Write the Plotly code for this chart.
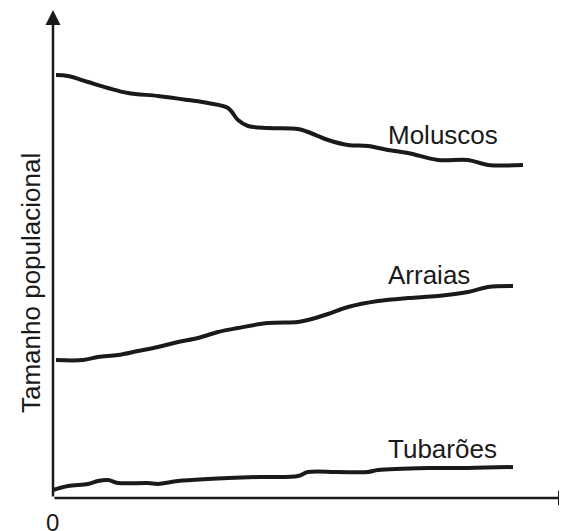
import plotly.graph_objects as go

# values (time, population size, arbitrary units)
mol_t = [3, 15, 35, 55, 75, 105, 135, 155, 175, 185, 195, 215, 245, 255, 275, 295, 315, 335, 355, 385, 415, 435, 470]
mol_n = [423, 422, 416, 410, 405, 402, 398, 395, 390, 378, 372, 370, 369, 366, 358, 353, 352, 348, 345, 338, 338, 333, 333]

arr_t = [3, 30, 45, 65, 85, 105, 125, 145, 165, 185, 215, 245, 255, 275, 295, 325, 355, 385, 415, 435, 460]
arr_n = [138, 138, 141, 143, 147, 151, 156, 160, 166, 170, 175, 176, 178, 184, 191, 197, 200, 202, 206, 211, 212]

tub_t = [0, 15, 35, 45, 55, 65, 95, 105, 125, 155, 205, 245, 255, 285, 315, 325, 375, 415, 460]
tub_n = [8, 12, 14, 17, 18, 15, 15, 14, 17, 19, 21, 22, 26, 26, 26, 28, 30, 30, 31]

series = [("Moluscos", mol_t, mol_n, 333, 363),
          ("Arraias", arr_t, arr_n, 333, 223),
          ("Tubarões", tub_t, tub_n, 333, 49)]

ink = "#1a1a1a"
fig = go.Figure()
for name, t, n, lx, ly in series:
    fig.add_trace(go.Scatter(x=t, y=n, mode="lines", line=dict(color=ink, width=4, shape="spline"),
                             showlegend=False))
    fig.add_annotation(x=lx, y=ly, text=name, showarrow=False, xanchor="left",
                       font=dict(size=26, color=ink))

# axes drawn as arrows
fig.add_annotation(x=520, y=0, ax=0, ay=0, xref="x", yref="y", axref="x", ayref="y",
                   showarrow=True, arrowhead=2, arrowsize=1.2, arrowwidth=2.5, arrowcolor=ink, text="")
fig.add_annotation(x=0, y=488, ax=0, ay=0, xref="x", yref="y", axref="x", ayref="y",
                   showarrow=True, arrowhead=2, arrowsize=1.2, arrowwidth=2.5, arrowcolor=ink, text="")
fig.add_annotation(x=-1, y=-24, text="0", showarrow=False, font=dict(size=24, color=ink))
fig.add_annotation(x=200, y=-56, text="Tempo", showarrow=False, font=dict(size=26, color=ink))
fig.add_annotation(x=-22, y=215, text="Tamanho populacional", textangle=-90, showarrow=False,
                   font=dict(size=26, color=ink))

fig.update_layout(width=567, height=531, margin=dict(l=0, r=0, t=0, b=0, autoexpand=False),
                  paper_bgcolor="white", plot_bgcolor="white",
                  font=dict(family="Liberation Sans, Arial"),
                  xaxis=dict(range=[-45, 522], visible=False),
                  yaxis=dict(range=[-41, 490], visible=False))
fig.write_html("out.html")
